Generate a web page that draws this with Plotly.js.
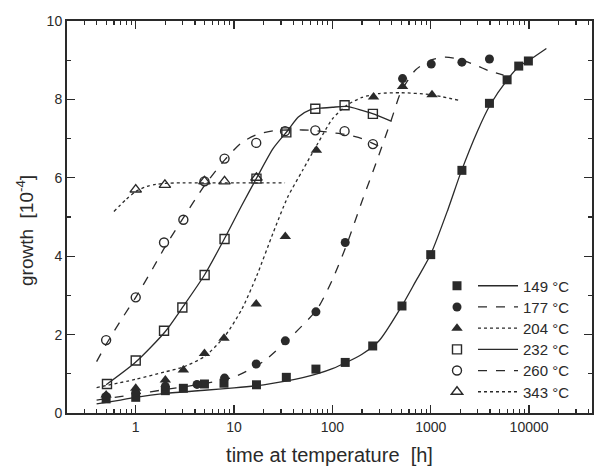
<!DOCTYPE html>
<html>
<head>
<meta charset="utf-8">
<script src="https://cdn.plot.ly/plotly-3.0.1.min.js"></script>
<style>html,body{margin:0;padding:0;background:#fff;}#chart{width:596px;height:468px;}</style>
</head>
<body>
<div id="chart"></div>
<script>
// ---- measured points ----
const labels = ["149 °C", "177 °C", "204 °C", "232 °C", "260 °C", "343 °C"];

const t149 = [0.5, 1, 2, 3.05, 5, 7.9, 16.9, 34, 68, 135, 257, 510, 1000, 2075, 3955, 5980, 7850, 9840];
const g149 = [0.36, 0.4, 0.57, 0.63, 0.74, 0.76, 0.72, 0.91, 1.12, 1.29, 1.71, 2.73, 4.04, 6.19, 7.9, 8.5, 8.85, 8.98];

const t177 = [0.5, 1, 2, 4.2, 8, 16.8, 33.2, 68, 135, 517, 1012, 2075, 3955];
const g177 = [0.42, 0.52, 0.68, 0.73, 0.89, 1.25, 1.84, 2.58, 4.35, 8.53, 8.9, 8.95, 9.03];

const t204 = [0.5, 1, 2, 3.05, 5, 7.9, 16.8, 33.2, 68.8, 262, 517, 1030];
const g204 = [0.46, 0.63, 0.84, 1.1, 1.52, 1.91, 2.78, 4.5, 6.7, 8.06, 8.33, 8.12];

const t232 = [0.51, 1, 1.94, 2.98, 5.02, 8, 16.9, 34, 67, 133, 258];
const g232 = [0.74, 1.34, 2.1, 2.69, 3.52, 4.44, 5.98, 7.16, 7.76, 7.85, 7.63];

const t260 = [0.5, 1, 1.94, 3.05, 5, 8, 16.8, 33, 67, 133, 258];
const g260 = [1.86, 2.95, 4.35, 4.93, 5.91, 6.49, 6.89, 7.19, 7.21, 7.19, 6.86];

const t343 = [1, 1.98, 5, 8, 16.9];
const g343 = [5.7, 5.82, 5.91, 5.91, 6.0];

// ---- fitted curves ----
const ct149 = [0.4, 0.7, 1, 2, 5, 10, 20, 50, 100, 200, 300, 500, 700, 1000, 1500, 2000, 3000, 4000, 6000, 8000, 10000, 15000];
const cg149 = [0.23, 0.33, 0.4, 0.5, 0.58, 0.64, 0.72, 0.9, 1.13, 1.5, 1.85, 2.7, 3.35, 4.05, 5.2, 6.1, 7.2, 7.85, 8.5, 8.85, 9.0, 9.3];

const ct177 = [0.4, 1, 2, 5, 10, 20, 40, 70, 100, 140, 200, 280, 400, 500, 700, 1000, 1400, 2000, 3000, 4000, 5500];
const cg177 = [0.33, 0.48, 0.6, 0.75, 0.92, 1.32, 2.0, 2.65, 3.4, 4.3, 5.4, 6.4, 7.5, 8.2, 8.75, 9.0, 9.08, 9.02, 8.85, 8.72, 8.62];

const ct204 = [0.4, 1, 2, 3, 5, 8, 12, 17, 25, 35, 50, 70, 100, 140, 200, 300, 500, 1000, 1900];
const cg204 = [0.65, 0.86, 1.05, 1.17, 1.44, 1.95, 2.65, 3.5, 4.6, 5.5, 6.2, 6.85, 7.5, 7.85, 8.05, 8.15, 8.17, 8.12, 7.98];

const ct232 = [0.5, 1, 2, 3, 5, 8, 12, 17, 25, 35, 45, 60, 80, 100, 140, 200, 270, 400];
const cg232 = [0.72, 1.3, 2.08, 2.7, 3.52, 4.45, 5.3, 6.0, 6.75, 7.2, 7.55, 7.74, 7.78, 7.8, 7.82, 7.72, 7.62, 7.44];

const ct260 = [0.4, 0.5, 0.7, 1, 1.5, 2, 3, 5, 8, 12, 17, 25, 35, 50, 70, 100, 140, 200, 330];
const cg260 = [1.31, 1.75, 2.35, 2.95, 3.7, 4.25, 4.95, 5.8, 6.45, 6.9, 7.1, 7.2, 7.22, 7.22, 7.2, 7.15, 7.1, 7.0, 6.75];

const ct343 = [0.6, 0.8, 1, 1.3, 1.6, 2, 3, 5, 10, 20, 33];
const cg343 = [5.14, 5.45, 5.65, 5.78, 5.83, 5.86, 5.87, 5.87, 5.87, 5.87, 5.87];

const xTickVals = [1, 10, 100, 1000, 10000];
const xTickText = ["1", "10", "100", "1000", "10000"];
const yTickVals = [0, 2, 4, 6, 8, 10];
const xTitle = "time at temperature  [h]";
const yTitle = "growth  [10<sup>-4</sup>]";

// ---- styling ----
const ink = "#2a2a2a";
const W = 596, H = 468, M = {l: 67, r: 4, t: 21, b: 55};
const plotW = W - M.l - M.r, plotH = H - M.t - M.b;
const symbols = ["square", "circle", "triangle-up", "square-open", "circle-open", "triangle-up-open"];
const dashes = ["solid", "dash", "dot", "solid", "dash", "dot"];
const pts = [[t149, g149], [t177, g177], [t204, g204], [t232, g232], [t260, g260], [t343, g343]];
const curves = [[ct149, cg149], [ct177, cg177], [ct204, cg204], [ct232, cg232], [ct260, cg260], [ct343, cg343]];

const layout = {
  width: W, height: H,
  margin: M,
  paper_bgcolor: "#fff", plot_bgcolor: "#fff",
  font: {family: "Liberation Sans, Arial, sans-serif", size: 14, color: ink},
  xaxis: {
    type: "log", range: [Math.log10(0.2), 4.64],
    tickmode: "array", tickvals: xTickVals, ticktext: xTickText,
    ticks: "inside", ticklen: 8, tickwidth: 1.3, tickcolor: ink,
    minor: {tickmode: "array", tickvals: [], ticks: "inside", ticklen: 4, tickwidth: 1.2, tickcolor: ink},
    showline: true, linecolor: ink, linewidth: 2, mirror: "allticks",
    showgrid: false, zeroline: false,
    tickfont: {size: 14},
    title: {text: xTitle, font: {size: 20}, standoff: 14}
  },
  yaxis: {
    range: [0, 10],
    tickmode: "array", tickvals: yTickVals,
    ticks: "inside", ticklen: 8, tickwidth: 1.3, tickcolor: ink,
    minor: {dtick: 1, ticks: "inside", ticklen: 4, tickwidth: 1.2, tickcolor: ink},
    showline: true, linecolor: ink, linewidth: 2, mirror: "allticks",
    showgrid: false, zeroline: false,
    tickfont: {size: 14}
  },
  annotations: [{
    text: yTitle, textangle: -90, showarrow: false,
    xref: "paper", yref: "paper",
    x: (25 - M.l) / plotW, y: (H - M.b - 231) / plotH,
    xanchor: "center", yanchor: "middle",
    font: {size: 19, color: ink}
  }],
  showlegend: true
};

for (let d = -1; d <= 4; d++) for (let k = 2; k <= 9; k++) layout.xaxis.minor.tickvals.push(k * Math.pow(10, d));

const traces = [];
const rowTop = 286, rowStep = 21.2, topOffset = 16.5;
const markerLegendX = 437, lineLegendX = 473;
curves.forEach((c, i) => {
  const rowY = (H - M.b - (rowTop + rowStep * i - topOffset)) / plotH;
  const lk = "legend" + (2 * i + 2);
  const mk = i === 0 ? "legend" : "legend" + (2 * i + 1);
  layout[lk] = {x: (lineLegendX - M.l) / plotW, y: rowY, xanchor: "left", yanchor: "top", bgcolor: "rgba(0,0,0,0)", font: {size: 15}, itemwidth: 40};
  layout[mk] = {x: (markerLegendX - M.l) / plotW, y: rowY, xanchor: "left", yanchor: "top", bgcolor: "rgba(0,0,0,0)", font: {size: 15}, itemwidth: 30};
  traces.push({
    x: c[0], y: c[1], type: "scatter", mode: "lines", line: {shape: "spline", smoothing: 0.7, color: ink, width: 1.3, dash: dashes[i]},
    name: labels[i], legend: lk, showlegend: true, hoverinfo: "skip"
  });
  const p = pts[i];
  const open = symbols[i].indexOf("open") >= 0;
  traces.push({
    x: p[0], y: p[1], type: "scatter", mode: "markers",
    marker: {symbol: symbols[i], size: symbols[i].indexOf("triangle") >= 0 ? 10 : 9, color: ink, line: {color: ink, width: open ? 1.4 : 0}},
    name: " ", legend: mk, showlegend: true
  });
});
// draw markers above all curves
const ordered = traces.filter(t => t.mode === "lines").concat(traces.filter(t => t.mode === "markers"));

Plotly.newPlot("chart", ordered, layout, {displayModeBar: false, staticPlot: true});
</script>
</body>
</html>
